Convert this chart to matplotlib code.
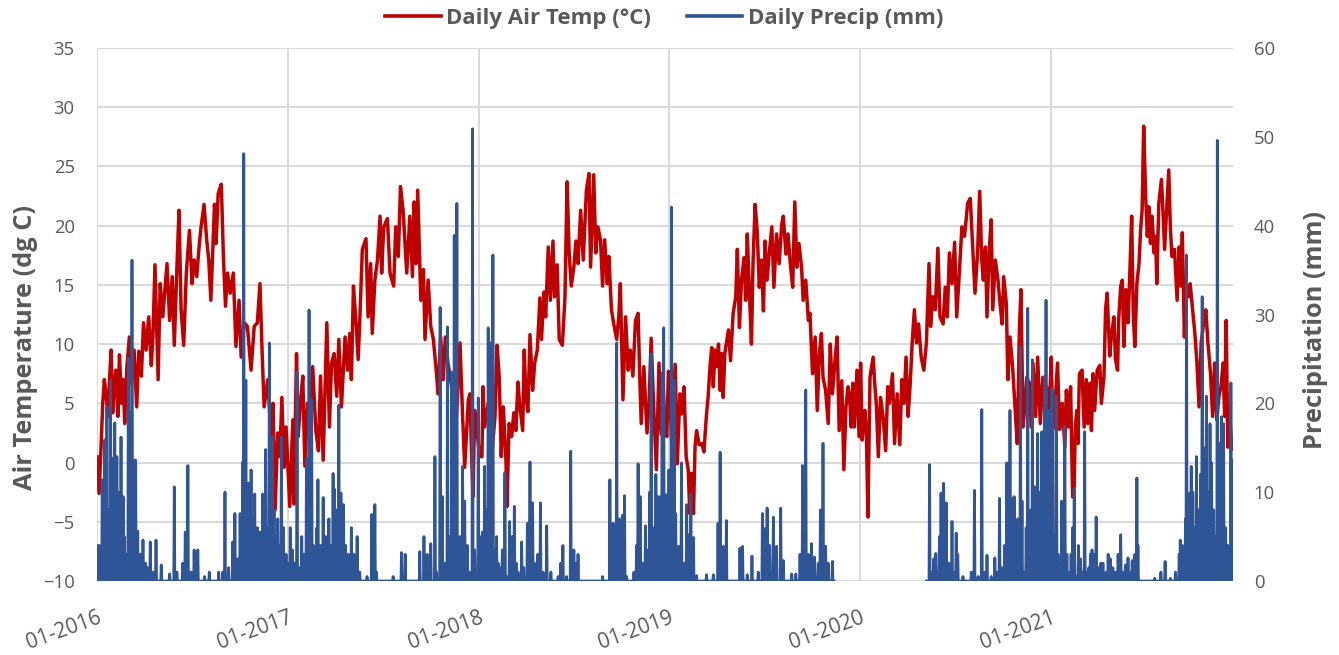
import numpy as np
import matplotlib
matplotlib.use("Agg")
import matplotlib.pyplot as plt
from matplotlib.lines import Line2D

# ---------------- DATA ----------------
years = [2016, 2017, 2018, 2019, 2020, 2021]
tick_labels = ["01-2016", "01-2017", "01-2018", "01-2019", "01-2020", "01-2021"]

# Daily air temperature (deg C): day-of-year and value
temp_2016_days = [0, 4, 8, 11, 14, 18, 21, 24, 27, 30, 33, 36, 40, 43, 47, 50, 53, 57, 62, 66, 71, 76, 80, 85, 89, 94, 99,
                  104, 107, 111, 117, 121, 126, 130, 134, 139, 144, 148, 153, 157, 161, 166, 171, 177, 182, 186, 191, 195,
                  199, 205, 210, 214, 218, 225, 228, 232, 238, 242, 246, 250, 255, 261, 266, 272, 276, 282, 288, 295, 301,
                  307, 312, 316, 320, 327, 333, 337, 341, 346, 350, 354, 358, 362]
temp_2016_vals = [0.5, -2.6, 1.6, 5, 7, 5.5, 3.9, 7, 9.5, 4.2, 6.5, 7.8, 3.9, 9.1, 5, 7, 3.3, 8, 10.6, 6.7, 9.5, 4.7, 9.4,
                  7.3, 11.8, 9.5, 12.3, 8.2, 10.6, 16.7, 7, 15.1, 12.3, 14.5, 16.8, 12, 15.7, 9.9, 16.5, 21.3, 12.9, 9.9,
                  16, 19.6, 15.1, 17.1, 15.7, 18, 19.8, 21.8, 18.8, 17.1, 13.7, 21.8, 18.5, 22.7, 23.5, 17.4, 13.2, 16,
                  14.3, 16, 9.8, 13.7, 8.9, 11.8, 11.5, 7.8, 11.5, 11.8, 15.1, 9.5, 4.7, 7, 2.3, 5, -4, 2.5, 0.5, 5.5,
                  -0.4, 3]

temp_2017_days = [3, 9, 11, 16, 19, 24, 28, 32, 37, 42, 47, 53, 58, 62, 67, 74, 79, 83, 88, 93, 97, 102, 109, 114, 118,
                  121, 125, 130, 134, 137, 142, 149, 153, 158, 161, 166, 171, 176, 179, 183, 190, 195, 202, 206, 211, 215,
                  220, 227, 233, 238, 241, 245, 248, 254, 259, 262, 268, 273, 278, 284, 287, 292, 297, 301, 306, 313, 319,
                  324, 329, 334, 338, 345, 348, 351, 354, 357, 361]
temp_2017_vals = [-3.7, 3.6, -3.5, 9.2, 2.2, 5.3, 7.3, -0.3, 5, 4.4, 8.1, 2.7, 1, 7.3, 0.2, 11.8, 3, 8.4, 9.2, 5.6, 10.4,
                  4.7, 10.6, 7.8, 10.9, 7, 14.9, 11.8, 8.7, 11.8, 18, 18.9, 12.3, 16.8, 10.9, 15.4, 17.1, 20.8, 16, 19.9,
                  20.6, 16, 14.9, 19.9, 17.4, 23.3, 21.3, 16, 20.8, 15.7, 22, 16.8, 23, 13.7, 16.3, 10.4, 15.4, 11.5,
                  10.4, 7.5, 5.8, 10.6, 7, 10.6, 8.4, 6.4, 1.6, 5.3, 10.1, 3.9, -0.4, 5.3, 5.8, 1, -2.9, 4.4, 2.7]

temp_2018_days = [2, 6, 8, 11, 18, 24, 31, 35, 39, 43, 47, 52, 54, 58, 63, 67, 71, 75, 78, 84, 87, 90, 94, 98, 103, 107,
                  112, 117, 120, 125, 128, 133, 137, 142, 145, 150, 154, 160, 165, 169, 173, 177, 182, 186, 190, 195, 200,
                  206, 211, 214, 220, 224, 228, 233, 237, 241, 246, 249, 254, 258, 264, 268, 271, 276, 281, 286, 290, 295,
                  300, 305, 308, 311, 316, 322, 326, 330, 335, 340, 345, 349, 353, 356, 360, 363]
temp_2018_vals = [0.5, 0.5, 6.4, 3, 5, 0.2, 3.9, 9.9, 7.3, 0.5, 4.7, 0.2, -3.7, 3.3, 2.2, 4.2, 2.7, 6.8, 5, 2.7, 9.5, 5.6,
                  4.3, 10.8, 6.1, 8.4, 9.5, 13.9, 10.4, 14.4, 12.3, 18.2, 13.7, 18.7, 14, 16.7, 10.4, 9.9, 14, 23.7, 17.7,
                  14.9, 16.5, 18.7, 16.8, 21.3, 17.1, 23, 24.4, 16.5, 24.3, 17.7, 19.9, 18.8, 14.9, 18.8, 15.1, 17.4,
                  12.9, 11.8, 10.4, 12.3, 15.1, 5.3, 12.3, 7.8, 9.5, 7.3, 12, 12.6, 7.5, 3.3, 8.1, 2.5, 5, 10.5, 4.4,
                  -0.6, 8.4, 2.4, 6.5, 3, 2.2, 7.7]

temp_2019_days = [0, 4, 11, 15, 20, 23, 28, 32, 36, 39, 42, 46, 49, 52, 57, 62, 66, 71, 74, 78, 81, 84, 87, 90, 94, 97,
                  100, 103, 106, 113, 117, 122, 127, 130, 134, 138, 143, 146, 149, 153, 157, 160, 164, 168, 172, 176, 180,
                  183, 187, 191, 196, 200, 205, 210, 215, 218, 223, 227, 232, 236, 240, 244, 248, 253, 256, 261, 266, 269,
                  274, 279, 283, 287, 291, 294, 299, 304, 308, 312, 317, 321, 325, 330, 334, 338, 342, 345, 348, 351, 354,
                  359, 363]
temp_2019_vals = [7, 1.9, 8.3, -0.1, 5.8, 4.1, 6.4, 0.5, -0.6, -4.3, -0.9, -4.3, 1.3, 2.7, 1.5, 1.6, 0.9, 4.1, 5.5, 8.3,
                  9.7, 6.4, 9.5, 8.1, 10, 6.1, 9.2, 5.5, 9.2, 11.2, 8.6, 12.6, 14, 18, 11.4, 15.4, 17.3, 13.7, 19.3, 14.5,
                  10, 16.8, 21.8, 19.6, 14.8, 17.1, 12.8, 18.7, 15.4, 17.6, 19.9, 14.8, 19.3, 16.8, 20.1, 20.8, 17.6,
                  19.3, 16.5, 14.8, 22, 16.5, 18.5, 16.5, 13.7, 15.4, 12, 12.6, 7.5, 10.6, 4.4, 9.2, 10.9, 7.2, 6.1, 3.3,
                  10, 5.8, 8.6, 10.6, 2.7, 6.9, -0.6, 4.7, 6.4, 5.5, 3, 6.7, 3, 7.8, 2.2]

temp_2020_days = [1, 4, 9, 12, 15, 19, 25, 28, 31, 35, 39, 44, 49, 53, 56, 62, 66, 71, 76, 80, 84, 88, 92, 96, 100, 104,
                  108, 112, 117, 122, 127, 132, 135, 139, 144, 149, 153, 159, 163, 167, 171, 176, 181, 185, 190, 195, 200,
                  206, 211, 216, 220, 225, 229, 233, 236, 240, 243, 247, 251, 254, 259, 264, 268, 272, 275, 280, 283, 287,
                  292, 297, 301, 305, 308, 312, 316, 319, 324, 328, 331, 336, 340, 345, 350, 355, 357, 361, 364]
temp_2020_vals = [8.4, 1.9, 4.4, 2.7, -4.6, 7.2, 8.9, 6.7, 5, 0.5, 5.5, 3.9, 1, 6.4, 5, 7.5, 1.6, 5.8, 1.5, 7, 5, 8.9,
                  3.9, 6.7, 10.3, 12.9, 10.1, 11.7, 8.9, 7.8, 10.1, 16.8, 11.5, 14, 12.9, 18.1, 12.3, 11.7, 14.8, 12.3,
                  17.7, 15.1, 18.6, 12.3, 16, 19.9, 19.1, 21.9, 22.3, 17.9, 14.3, 17.7, 22.9, 17.1, 15.4, 18.2, 12.3,
                  17.7, 20.5, 12.9, 17.1, 15.4, 13.4, 11.7, 15.7, 13.4, 7, 10.6, 8.1, 4.4, 1.6, 11.2, 14.6, 3, 5, 7.2,
                  6.7, 3, 8.4, 3.9, 8.9, 3.3, 7.2, 5, 6.4, 1.1, 6.4]

temp_2021_days = [0, 3, 7, 12, 16, 21, 26, 29, 33, 37, 41, 44, 46, 49, 51, 54, 59, 63, 67, 70, 74, 77, 80, 83, 88, 93,
                  96, 101, 104, 107, 112, 115, 120, 123, 127, 129, 133, 136, 139, 143, 147, 150, 154, 157, 160, 164, 168,
                  171, 174, 177, 181, 184, 187, 190, 193, 197, 200, 202, 206, 211, 214, 217, 221, 225, 228, 231, 236, 241,
                  245, 248, 251, 255, 258, 263, 266, 270, 275, 279, 283, 287, 292, 296, 300, 305, 309, 313, 317, 321, 325,
                  329, 332, 335, 338, 341, 346]
temp_2021_vals = [8.9, 2.8, 4.7, 8.4, 2.8, 5, 1.3, 6.1, 3, 6.4, -2.9, -2, 3, 4.4, 1.6, 7.5, 7.8, 3, 7, 3.3, 6.7, 2.7,
                  7.5, 4.4, 7.8, 8.2, 5, 7.3, 12.9, 14.3, 9, 10.6, 12.3, 8.7, 7.8, 12, 14.9, 15.4, 9.8, 14.6, 11.8, 15.4,
                  20.8, 12.6, 9.8, 15.1, 16.8, 19.6, 21.3, 28.4, 22.2, 19.1, 21.6, 18.5, 20.8, 17.7, 19.1, 15.1, 21.9,
                  23.9, 21.1, 18, 21.3, 24.7, 19.9, 17.4, 18, 13.7, 18.2, 14.9, 19.4, 10.6, 15.1, 14, 15.1, 13.2, 10.9,
                  8.4, 4.7, 10.1, 11.8, 12.9, 10.1, 7.5, 3.9, 8.4, 3.6, 5.6, 6.4, 8.4, 3.9, 12, 1.3, 4.4, 1.1]

# Daily precipitation (mm): days with rain (all other recorded days are 0)
precip_2016_days = [0, 1, 4, 7, 10, 12, 15, 17, 19, 22, 24, 26, 29, 31, 34, 36, 38, 40, 42, 44, 46, 48, 50, 52, 55, 57,
                    60, 62, 64, 67, 70, 72, 74, 76, 78, 80, 83, 88, 93, 97, 102, 108, 113, 123, 139, 148, 153, 164, 169,
                    174, 180, 186, 193, 206, 215, 233, 241, 245, 252, 260, 264, 269, 274, 279, 281, 283, 285, 287, 290,
                    292, 295, 298, 300, 302, 305, 307, 310, 312, 315, 317, 320, 323, 325, 327, 330, 333, 336, 339, 342,
                    344, 346, 348, 351, 353, 355, 357, 360, 362]
precip_2016_mm = [1.5, 4, 4, 2, 11.4, 6, 15.9, 3, 19.6, 8, 5, 22.6, 13.8, 4, 17.8, 2, 14, 6, 10, 3, 16.2, 2, 9.5, 5, 3, 1,
                  25.1, 4, 19, 36.1, 13.6, 6, 13.6, 2, 5.6, 1.5, 3, 4.6, 2, 1.5, 4.4, 1, 4.6, 1.8, 0.8, 10.6, 1, 2, 5.5,
                  13, 1, 3.5, 3.5, 0.5, 1, 1, 1, 10, 1.5, 4.4, 7.6, 2.5, 7.6, 13.4, 48.1, 3, 22.6, 5, 11, 4, 12.5, 7, 2,
                  9.8, 3, 6, 2, 5.5, 4, 9.8, 3, 14.8, 6, 5.5, 26.8, 4, 16.2, 8, 2, 5, 7, 4, 3, 16.2, 5, 6, 2, 3]

precip_2017_days = [1, 4, 8, 13, 17, 22, 26, 30, 35, 40, 45, 48, 52, 55, 57, 62, 67, 72, 75, 78, 83, 86, 88, 91, 93, 97,
                    101, 106, 110, 115, 121, 126, 132, 137, 151, 160, 166, 169, 201, 217, 224, 252, 260, 266, 273, 281,
                    284, 291, 295, 300, 305, 310, 313, 316, 318, 323, 329, 334, 338, 343, 347, 353, 357, 364]
precip_2017_mm = [2, 6, 3.5, 2, 23.5, 1.5, 5, 3, 13.8, 30.5, 20.4, 4, 3, 6, 11.4, 4, 9.4, 5, 3, 7, 4, 12.1, 10.4, 4, 8,
                  19.8, 9.9, 8.6, 4, 3, 6, 3, 5, 1, 0.5, 7.5, 8.6, 1, 0.5, 3.2, 3, 3.3, 5, 3, 4.2, 14, 1, 30.8, 9.5, 2,
                  28.6, 5, 23.5, 3, 38.9, 42.5, 5, 12.9, 9, 4, 1, 50.9, 3.5, 20.6]

precip_2018_days = [2, 7, 11, 15, 18, 22, 25, 27, 31, 34, 37, 40, 45, 50, 54, 59, 64, 68, 72, 75, 82, 86, 93, 98, 103,
                    107, 113, 118, 123, 130, 138, 152, 157, 161, 168, 176, 182, 186, 190, 237, 251, 257, 262, 264, 269,
                    275, 279, 283, 297, 302, 305, 309, 314, 319, 324, 327, 330, 335, 339, 343, 348, 351, 354, 359, 364]
precip_2018_mm = [5, 5.5, 12.9, 8, 28.5, 26.8, 1, 36.7, 3.5, 5, 2, 1.5, 3.5, 12.2, 0.5, 6.7, 5, 8.4, 2, 1, 4.4, 1.5, 6.5,
                  13.4, 8.8, 2, 3, 8.8, 1, 6.2, 1, 0.5, 2, 4, 0.5, 14.6, 3.5, 2, 3, 0.5, 11.4, 6.5, 6.3, 26.8, 7, 7.4,
                  9.6, 0.5, 1, 4, 13.2, 9.5, 2, 6.2, 3.5, 10, 25.6, 6, 12, 9.5, 9.5, 23.4, 28.5, 9.7, 12.5]

precip_2019_days = [1, 4, 9, 12, 15, 18, 23, 28, 33, 37, 41, 46, 52, 71, 84, 93, 97, 103, 109, 135, 140, 149, 158, 170,
                    178, 183, 187, 192, 199, 205, 213, 218, 234, 242, 250, 255, 257, 261, 266, 272, 278, 285, 289, 294,
                    299, 304, 312]
precip_2019_mm = [9, 42.1, 22.6, 7.6, 3, 3.9, 13.3, 2, 8.6, 5.2, 9.8, 4.9, 0.6, 0.7, 0.7, 6.5, 14.5, 3.9, 6.8, 3.7, 3.9,
                  0.7, 2.8, 1, 7.6, 5.9, 8.2, 4, 7.2, 3.9, 8.2, 2.3, 0.8, 0.8, 3, 13, 5.9, 21.5, 3, 4.2, 2.7, 2, 8, 15.5,
                  3.9, 2, 2.2]

precip_2020_days = [133, 138, 141, 145, 149, 152, 155, 160, 165, 170, 176, 181, 184, 187, 197, 213, 219, 226, 233, 238,
                    243, 251, 258, 263, 267, 272, 277, 281, 285, 287, 291, 295, 299, 302, 307, 310, 315, 318, 321, 324,
                    327, 330, 334, 337, 340, 345, 348, 350, 353, 356, 359, 362, 365]
precip_2020_mm = [13.1, 1, 2.5, 3.1, 1, 5, 9.9, 11, 8.8, 2, 6.7, 1, 5.4, 3, 0.5, 1, 10.2, 0.5, 19.3, 1, 2.9, 0.5, 2.6, 1,
                  9.3, 1.5, 4, 13.3, 6, 19.2, 9.3, 9.5, 1.5, 7, 26.4, 9, 1, 6, 30.7, 1, 8, 24.9, 10.6, 5, 16.6, 10, 16.8,
                  14.3, 23, 31.6, 15.2, 19.2, 18]

precip_2021_days = [1, 3, 6, 10, 13, 17, 20, 23, 26, 30, 35, 38, 41, 44, 48, 52, 56, 60, 64, 69, 72, 75, 78, 82, 86, 91,
                    95, 99, 105, 109, 113, 118, 123, 128, 133, 137, 142, 147, 151, 155, 160, 164, 166, 198, 210, 218, 228,
                    238, 245, 247, 251, 255, 257, 259, 262, 265, 268, 271, 274, 278, 282, 286, 289, 293, 297, 300, 304,
                    307, 311, 314, 318, 322, 326, 330, 334, 338, 341, 344, 346, 348]
precip_2021_mm = [21.6, 21.5, 5, 20.8, 3, 2, 9, 5, 17.4, 3, 1, 3, 6, 10.4, 0.5, 4, 2.5, 1, 16.8, 1, 1.5, 3, 3.5, 3, 7.2,
                  1.5, 2, 2, 1, 3, 2.5, 1.5, 1, 3, 5.2, 1, 1.8, 2.6, 1, 2.3, 3, 11.6, 4, 0.3, 1, 2.2, 0.3, 1, 3, 4.6, 4,
                  3.5, 7, 36.7, 5, 9.9, 12.9, 10, 6, 14, 8, 12, 32, 15, 20.8, 10, 17.7, 13.3, 8, 5, 49.6, 15.5, 18.5,
                  17.7, 6, 4, 3, 22.3, 6, 13.6]

precip_first_day = "2016-01-01"
precip_last_day = "2021-12-15"
precip_missing_from = "2019-11-13"
precip_missing_to = "2020-05-06"

# ---------------- BUILD SERIES ----------------
temp_days = [temp_2016_days, temp_2017_days, temp_2018_days, temp_2019_days, temp_2020_days, temp_2021_days]
temp_vals = [temp_2016_vals, temp_2017_vals, temp_2018_vals, temp_2019_vals, temp_2020_vals, temp_2021_vals]
t_dates, t_vals = [], []
for y, d, v in zip(years, temp_days, temp_vals):
    t_dates.append(np.datetime64(f"{y}-01-01") + np.array(d, dtype="timedelta64[D]"))
    t_vals.append(np.array(v, dtype=float))
t_dates = np.concatenate(t_dates)
t_vals = np.concatenate(t_vals)

p_dates = np.arange(np.datetime64(precip_first_day), np.datetime64(precip_last_day) + 1, dtype="datetime64[D]")
p_vals = np.zeros(len(p_dates))
precip_days = [precip_2016_days, precip_2017_days, precip_2018_days, precip_2019_days, precip_2020_days, precip_2021_days]
precip_mm = [precip_2016_mm, precip_2017_mm, precip_2018_mm, precip_2019_mm, precip_2020_mm, precip_2021_mm]
for y, d, v in zip(years, precip_days, precip_mm):
    idx = (np.datetime64(f"{y}-01-01") + np.array(d, dtype="timedelta64[D]") - p_dates[0]).astype(int)
    p_vals[idx] = v
miss = (p_dates >= np.datetime64(precip_missing_from)) & (p_dates <= np.datetime64(precip_missing_to))
p_vals[miss] = np.nan

# ---------------- PLOT ----------------
plt.rcParams["font.family"] = ["Open Sans", "DejaVu Sans"]
TXT = "#595959"
RED = "#C00000"
BLUE = "#2F5597"
GRID = "#D9D9D9"

fig = plt.figure(figsize=(13.39, 6.55), dpi=100)
ax = fig.add_axes([97 / 1339, 1 - 581 / 655, (1233 - 97) / 1339, (581 - 48) / 655])
ax2 = ax.twinx()

ax.plot(t_dates.astype(object), t_vals, color=RED, lw=2.5)
ax2.plot(p_dates.astype(object), p_vals, color=BLUE, lw=2.0)

xstart = np.datetime64("2016-01-01").astype(object)
xend = np.datetime64("2021-12-15").astype(object)
ax.set_xlim(xstart, xend)
ax.set_ylim(-10, 35)
ax.set_yticks(np.arange(-10, 36, 5))
ax2.set_ylim(0, 60)
ax2.set_yticks(np.arange(0, 61, 10))

ticks = [np.datetime64(f"{y}-01-01").astype(object) for y in years]
ax.set_xticks(ticks)
ax.set_xticklabels(tick_labels, rotation=20, ha="right", va="top", rotation_mode="anchor")

ax.grid(True, color=GRID, lw=1.4)
ax.set_axisbelow(True)
for a in (ax, ax2):
    for s in a.spines.values():
        s.set_visible(False)
ax.tick_params(axis="both", length=0, labelsize=13.3, labelcolor=TXT)
ax.tick_params(axis="y", pad=16)
ax.tick_params(axis="x", pad=19, labelsize=15)
ax2.tick_params(axis="y", length=0, labelsize=13.3, labelcolor=TXT, pad=15)

ax.set_ylabel("Air Temperature (dg C)", fontsize=18.3, fontweight="bold", color=TXT)
ax.yaxis.set_label_coords((38.5 - 97) / 1136, (581 - 347) / 533)
ax2.set_ylabel("Precipitation (mm)", fontsize=18.3, fontweight="bold", color=TXT)
ax2.yaxis.set_label_coords((1303 - 97) / 1136, (581 - 330) / 533)

handles = [Line2D([], [], color=RED, lw=2.6), Line2D([], [], color=BLUE, lw=2.6)]
fig.legend(handles, ["Daily Air Temp (\u00b0C)", "Daily Precip (mm)"], loc="center",
           bbox_to_anchor=(0.496, 0.972), ncol=2, frameon=False,
           prop={"size": 16, "weight": "bold"}, labelcolor=TXT,
           handlelength=2.5, handletextpad=0.25, columnspacing=1.6)

fig.savefig("out.png", dpi=100)
